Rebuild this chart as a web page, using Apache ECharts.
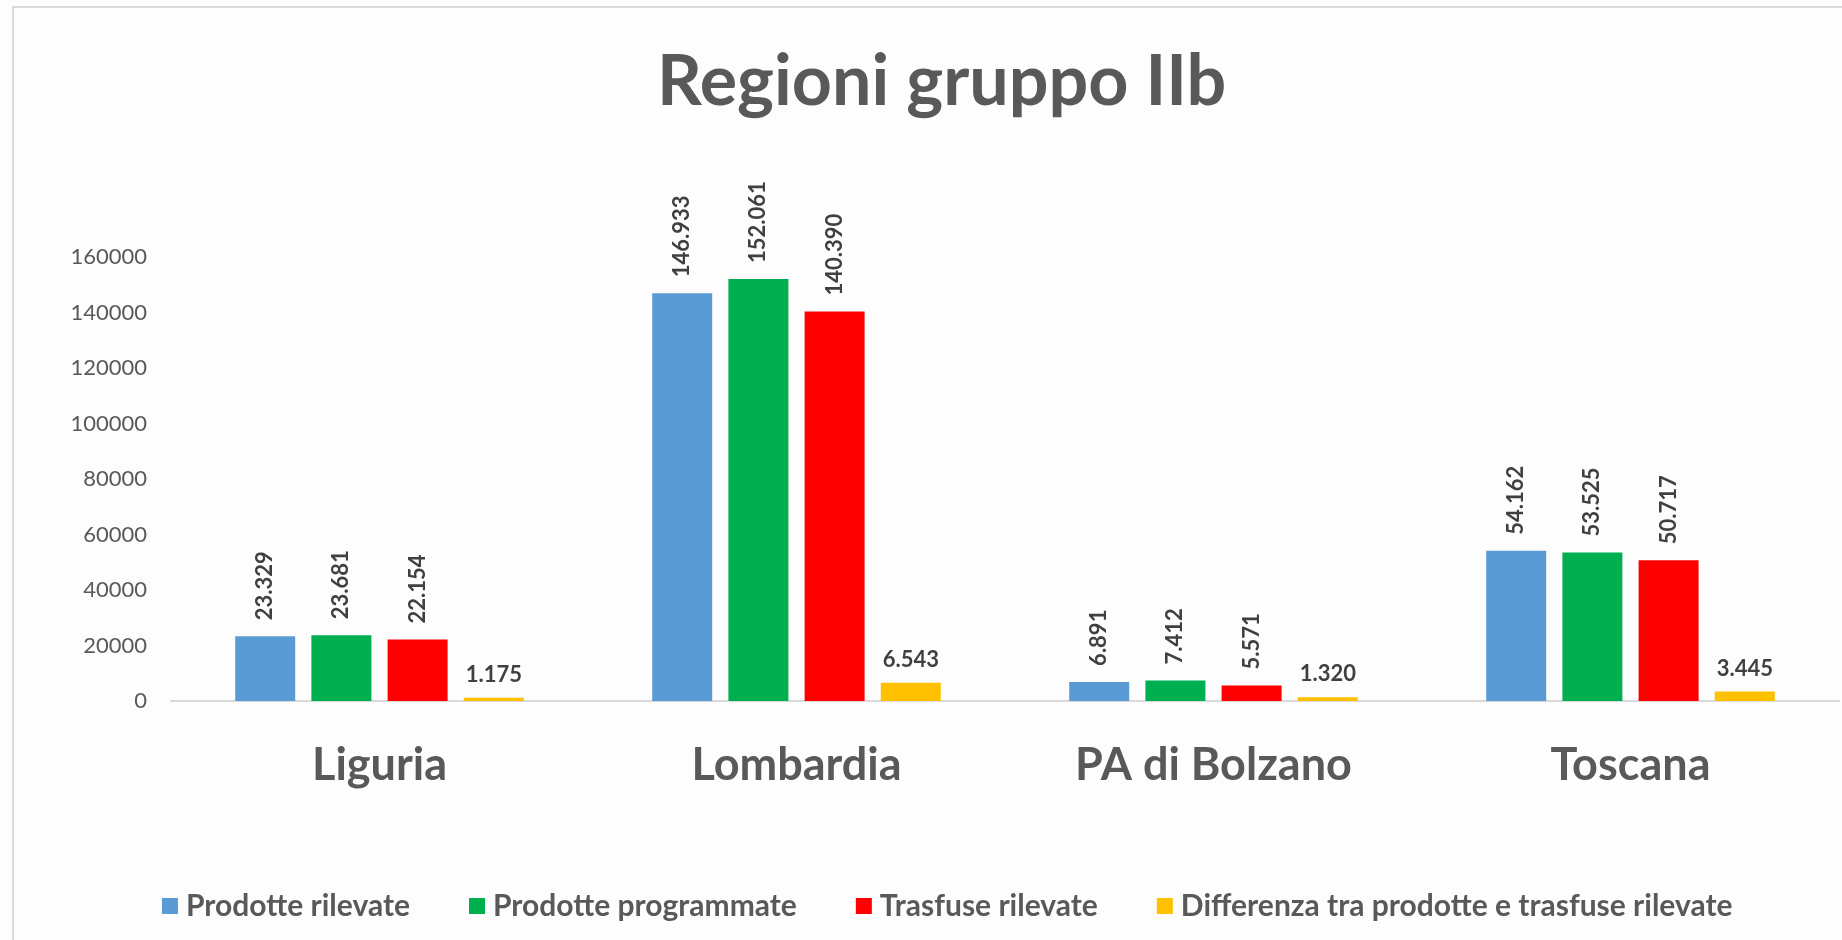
<!DOCTYPE html>
<html>
<head>
<meta charset="utf-8">
<script src="https://cdn.jsdelivr.net/npm/echarts@6/dist/echarts.min.js"></script>
<style>
  html, body { margin: 0; padding: 0; background: #ffffff; }
  #chart { width: 1842px; height: 940px; }
</style>
</head>
<body>
<div id="chart"></div>
<script>
const titleText = 'Regioni gruppo IIb';
const categories = ['Liguria', 'Lombardia', 'PA di Bolzano', 'Toscana'];
const seriesNames = ['Prodotte rilevate', 'Prodotte programmate', 'Trasfuse rilevate', 'Differenza tra prodotte e trasfuse rilevate'];
const prodotteRilevate = [23329, 146933, 6891, 54162];
const prodotteProgrammate = [23681, 152061, 7412, 53525];
const trasfuseRilevate = [22154, 140390, 5571, 50717];
const differenza = [1175, 6543, 1320, 3445];
const yMin = 0, yMax = 160000, yStep = 20000;

const colors = ['#5B9BD5', '#00B050', '#FF0000', '#FFC000'];
const FONT = 'Lato';

function fmt(v) {
  return String(v).replace(/\B(?=(\d{3})+(?!\d))/g, '.');
}

function makeSeries(name, data, color, rotated) {
  return {
    name: name,
    type: 'bar',
    data: data,
    barWidth: 60,
    barGap: '27%',
    itemStyle: { color: color },
    label: {
      show: true,
      position: 'top',
      distance: rotated ? 16 : 12,
      rotate: rotated ? 90 : 0,
      align: rotated ? 'left' : 'center',
      verticalAlign: rotated ? 'middle' : 'bottom',
      fontFamily: FONT,
      fontWeight: 'bold',
      fontSize: 22,
      color: '#404040',
      formatter: p => fmt(p.value)
    }
  };
}

const chart = echarts.init(document.getElementById('chart'), null, { renderer: 'canvas' });
chart.setOption({
  backgroundColor: '#fdfdfd',
  animation: false,
  title: {
    text: titleText,
    left: 652,
    top: 42,
    textStyle: { fontFamily: FONT, fontWeight: 'bold', fontSize: 70, color: '#595959' }
  },
  graphic: [{
    type: 'rect',
    shape: { x: 13, y: 7, width: 1900, height: 1000 },
    style: { fill: 'none', stroke: '#d9d9d9', lineWidth: 2 },
    silent: true
  }],
  legend: {
    bottom: 14,
    left: 157,
    itemWidth: 16,
    itemHeight: 16,
    itemGap: 59,
    icon: 'rect',
    textStyle: { fontFamily: FONT, fontWeight: 'bold', fontSize: 30, color: '#595959', padding: [0, 0, 0, 3] },
    data: seriesNames
  },
  grid: { left: 171, right: 3, top: 257, bottom: 239, containLabel: false },
  xAxis: {
    type: 'category',
    data: categories,
    axisLine: { show: true, lineStyle: { color: '#d9d9d9', width: 2 } },
    axisTick: { show: false },
    axisLabel: { fontFamily: FONT, fontWeight: 'bold', fontSize: 45, color: '#595959', margin: 42 },
    splitLine: { show: false }
  },
  yAxis: {
    type: 'value',
    min: yMin, max: yMax, interval: yStep,
    axisLine: { show: false },
    axisTick: { show: false },
    splitLine: { show: false },
    axisLabel: { fontFamily: FONT, fontSize: 22, color: '#595959', margin: 24, formatter: v => String(v) }
  },
  series: [
    makeSeries(seriesNames[0], prodotteRilevate, colors[0], true),
    makeSeries(seriesNames[1], prodotteProgrammate, colors[1], true),
    makeSeries(seriesNames[2], trasfuseRilevate, colors[2], true),
    makeSeries(seriesNames[3], differenza, colors[3], false)
  ]
});
</script>
</body>
</html>
